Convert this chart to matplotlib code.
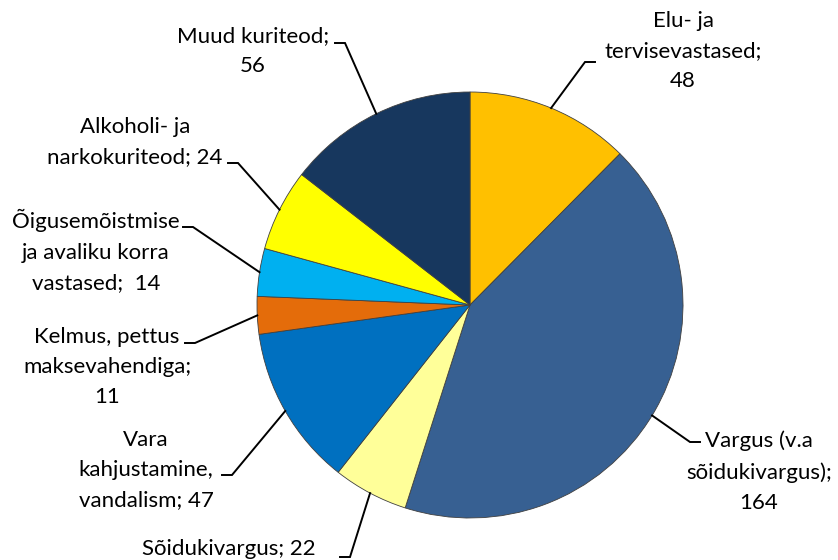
import numpy as np
import matplotlib.pyplot as plt

# crime categories and counts (clockwise from the top)
labels = [
    "Elu- ja\ntervisevastased;\n48",
    "Vargus (v.a\nsõidukivargus);\n164",
    "Sõidukivargus; 22",
    "Vara\nkahjustamine,\nvandalism; 47",
    "Kelmus, pettus\nmaksevahendiga;\n11",
    "Õigusemõistmise\nja avaliku korra\nvastased;  14",
    "Alkoholi- ja\nnarkokuriteod; 24",
    "Muud kuriteod;\n56",
]
values = [48, 164, 22, 47, 11, 14, 24, 56]
colors = ["#FFC000", "#376092", "#FFFF99", "#0070C0",
          "#E46C0A", "#00B0F0", "#FFFF00", "#17375E"]

# label layout (pixel coords, y measured from top): text centre, elbow of leader line
text_pos = [(683, 51), (759, 472), (229, 549), (146, 470),
            (107, 367), (96, 251), (135, 142), (253, 51)]
elbow = [(585, 62), (690, 442), (350, 557), (232, 475),
         (195, 343), (193, 227), (238, 163), (345, 43)]
elbow_side = [1, 1, -1, -1, -1, -1, -1, -1]

W, H = 838, 560
CX, CY, R = 470, 305, 213

plt.rcParams['font.family'] = ['Lato', 'DejaVu Sans']

fig = plt.figure(figsize=(W / 100, H / 100), dpi=100)
ax = fig.add_axes([0, 0, 1, 1])

wedges, _ = ax.pie(values, colors=colors, startangle=90, counterclock=False,
                   center=(CX, H - CY), radius=R,
                   wedgeprops=dict(edgecolor='#404040', linewidth=0.6))
ax.set_xlim(0, W)
ax.set_ylim(0, H)
ax.set_aspect('equal')
ax.axis('off')

total = sum(values)
start = 0.0
for i, v in enumerate(values):
    mid = np.radians(start + v / total * 180)
    start += v / total * 360
    px = CX + R * np.sin(mid)
    py = H - (CY - R * np.cos(mid))
    ex, ey = elbow[i][0], H - elbow[i][1]
    hx = ex + 10 * elbow_side[i]
    ax.plot([px, ex, hx], [py, ey, ey], color='black', lw=1.4,
            solid_joinstyle='miter')
    tx, ty = text_pos[i]
    ax.text(tx, H - ty, labels[i], ha='center', va='center',
            multialignment='center', fontsize=16, linespacing=1.65,
            color='black')

fig.savefig('out.png', dpi=100, facecolor='white')
